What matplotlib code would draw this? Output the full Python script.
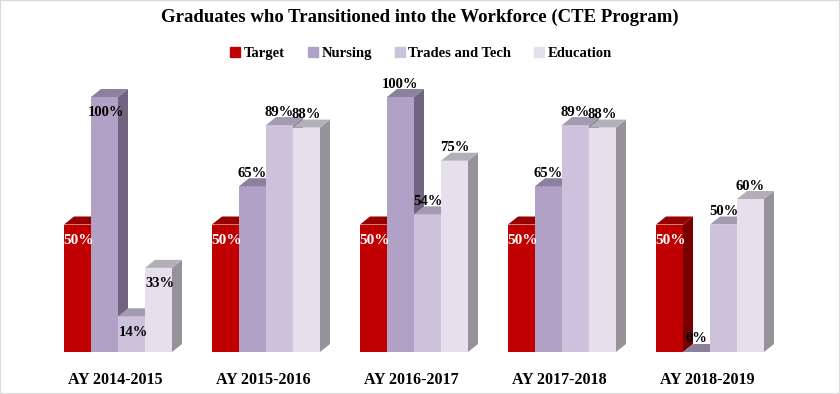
import numpy as np
import matplotlib.pyplot as plt
from matplotlib.patches import Polygon, Rectangle
from matplotlib.lines import Line2D

years = ['AY 2014-2015', 'AY 2015-2016', 'AY 2016-2017', 'AY 2017-2018', 'AY 2018-2019']
series = ['Target', 'Nursing', 'Trades and Tech', 'Education']
target = [50, 50, 50, 50, 50]
nursing = [100, 65, 100, 65, 0]
trades = [14, 89, 54, 89, 50]
education = [33, 88, 75, 88, 60]

# front, side, top shades
front = ['#C00000', '#B2A1C7', '#CDC2DB', '#E5E0EC']
side = ['#760000', '#706480', '#8F8A98', '#95929A']
top = ['#960000', '#8C809C', '#A39BAF', '#B3AFB8']

W, H = 840, 394
plt.rcParams['font.family'] = ['Liberation Serif', 'DejaVu Serif']
fig = plt.figure(figsize=(W / 100, H / 100), dpi=100)
ax = fig.add_axes([0, 0, 1, 1])

# pixel scales: 148 px per group, 2.55 px per percent
px_x, px_y = 148.0, 2.55
x0_px, y0_px = 118.0, 352.0
ax.set_xlim(-x0_px / px_x, (W - x0_px) / px_x)
ax.set_ylim(-(H - y0_px) / px_y, y0_px / px_y)
ax.axis('off')

bw = 27 / px_x
ddx, ddy = 10 / px_x, 8 / px_y
x = np.arange(len(years))
data = [target, nursing, trades, education]

for k, vals in enumerate(data):
    xs = x + (k - 1.5) * bw
    z = 2 + k * 3
    ax.bar(xs, vals, bw, color=front[k], zorder=z, linewidth=0)
    for xi, v in zip(xs, vals):
        l, r = xi - bw / 2, xi + bw / 2
        ax.add_patch(Polygon([(r, 0), (r + ddx, ddy), (r + ddx, v + ddy), (r, v)],
                             closed=True, fc=side[k], lw=0, zorder=z + 1))
        ax.add_patch(Polygon([(l, v), (r, v), (r + ddx, v + ddy), (l + ddx, v + ddy)],
                             closed=True, fc=top[k], lw=0, zorder=z + 1))

# data labels
for k, vals in enumerate(data):
    xs = x + (k - 1.5) * bw
    for g, (xi, v) in enumerate(zip(xs, vals)):
        if k == 0:
            ax.text(xi + 1 / px_x, v - 16 / px_y, f'{v}%', color='white', ha='center', va='center',
                    fontsize=11, fontweight='bold', zorder=30)
        elif g == 0:
            ax.text(xi + 2 / px_x, v - 16 / px_y, f'{v}%', color='black', ha='center', va='center',
                    fontsize=10.5, fontweight='bold', zorder=30)
        else:
            ax.text(xi, v + 13 / px_y, f'{v}%', color='black', ha='center', va='center',
                    fontsize=10.5, fontweight='bold', zorder=30)

for g, name in enumerate(years):
    ax.text(x[g] - 3 / px_x, -28 / px_y, name, ha='center', va='center',
            fontsize=11.5, fontweight='bold')

fig.text(0.5, 1 - 17 / H, 'Graduates who Transitioned into the Workforce (CTE Program)',
         ha='center', va='center', fontsize=13.5, fontweight='bold')

handles = [Line2D([], [], marker='s', ls='', color=c, markersize=7) for c in front]
fig.legend(handles, series, loc='center', bbox_to_anchor=(0.5, 1 - 53 / H), ncol=4,
           frameon=False, handletextpad=0.1, columnspacing=1.4, handlelength=1,
           prop={'weight': 'bold', 'size': 10.5})

fig.patches.append(Rectangle((0, 0), 1, 1, transform=fig.transFigure, fill=False,
                             ec='#D9D9D9', lw=1.5))

fig.savefig('out.png', dpi=100)
